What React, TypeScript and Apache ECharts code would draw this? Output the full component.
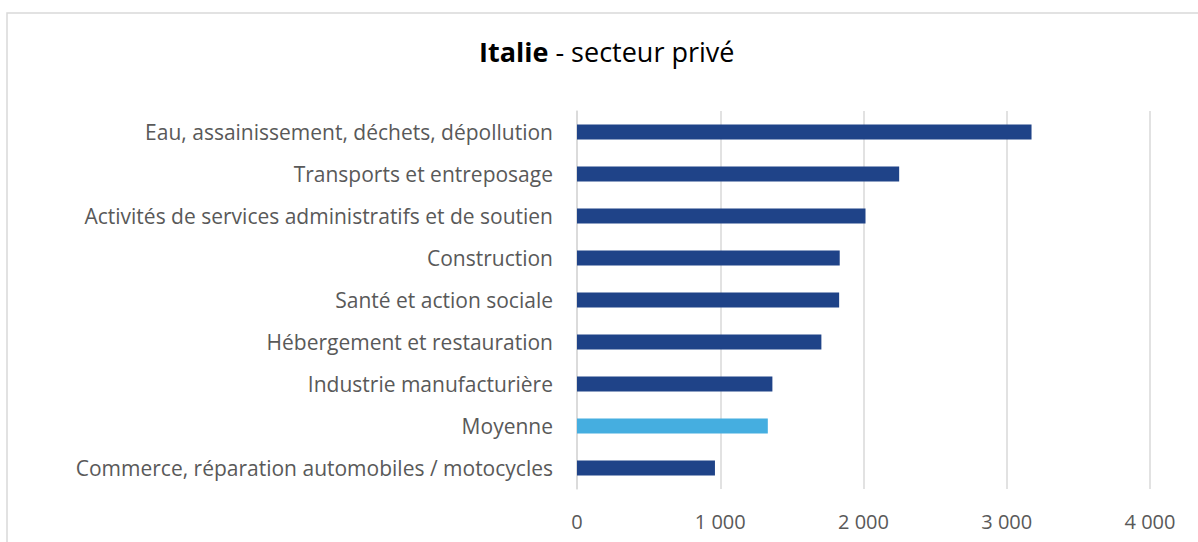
import React, { useEffect, useRef } from "react";
import * as echarts from "echarts";

const categories = [
  "Commerce, réparation automobiles / motocycles",
  "Moyenne",
  "Industrie manufacturière",
  "Hébergement et restauration",
  "Santé et action sociale",
  "Construction",
  "Activités de services administratifs et de soutien",
  "Transports et entreposage",
  "Eau, assainissement, déchets, dépollution",
];
const values = [963, 1332, 1364, 1706, 1830, 1834, 2014, 2249, 3173];
const highlightCategory = "Moyenne";
const xTicks = [0, 1000, 2000, 3000, 4000];

const DARK = "#1F4388";
const LIGHT = "#45AEE0";
const TEXT = "#595959";
const FONT = "'Open Sans', sans-serif";

export default function App() {
  const ref = useRef<HTMLDivElement>(null);
  useEffect(() => {
    if (!ref.current) return;
    const chart = echarts.init(ref.current, undefined, { renderer: "svg" });
    chart.setOption({
      animation: false,
      backgroundColor: "#ffffff",
      title: {
        text: "{b|Italie} - secteur privé",
        left: 474,
        top: 33,
        textStyle: {
          fontFamily: FONT,
          fontSize: 27,
          fontWeight: "normal",
          color: "#000000",
          rich: {
            b: { fontFamily: FONT, fontSize: 27, fontWeight: "bold", color: "#000000" },
          },
        },
      },
      graphic: [
        {
          type: "rect",
          shape: { x: 7, y: 13, width: 1300, height: 600 },
          style: { fill: "none", stroke: "#d9d9d9", lineWidth: 1.5 },
          silent: true,
        },
      ],
      grid: { left: 577, right: 48, top: 111, bottom: 53, containLabel: false },
      xAxis: {
        type: "value",
        min: 0,
        max: 4000,
        interval: 1000,
        axisLine: { show: false },
        axisTick: { show: false },
        splitLine: { show: true, lineStyle: { color: "#d9d9d9", width: 1.5 } },
        axisLabel: {
          margin: 22,
          color: TEXT,
          fontFamily: FONT,
          fontSize: 20,
          formatter: (v: number) =>
            xTicks.includes(v) ? String(v).replace(/\B(?=(\d{3})+(?!\d))/g, " ") : "",
        },
      },
      yAxis: {
        type: "category",
        data: categories,
        axisLine: { show: true, lineStyle: { color: "#d9d9d9", width: 1.5 } },
        axisTick: { show: false },
        axisLabel: { margin: 24, color: TEXT, fontFamily: FONT, fontSize: 21 },
      },
      series: [
        {
          type: "bar",
          barWidth: 15,
          data: values.map((v, i) => ({
            value: v,
            itemStyle: { color: categories[i] === highlightCategory ? LIGHT : DARK },
          })),
        },
      ],
    });
    return () => chart.dispose();
  }, []);
  return <div ref={ref} style={{ width: 1198, height: 542, position: "absolute", left: 0, top: 0 }} />;
}
